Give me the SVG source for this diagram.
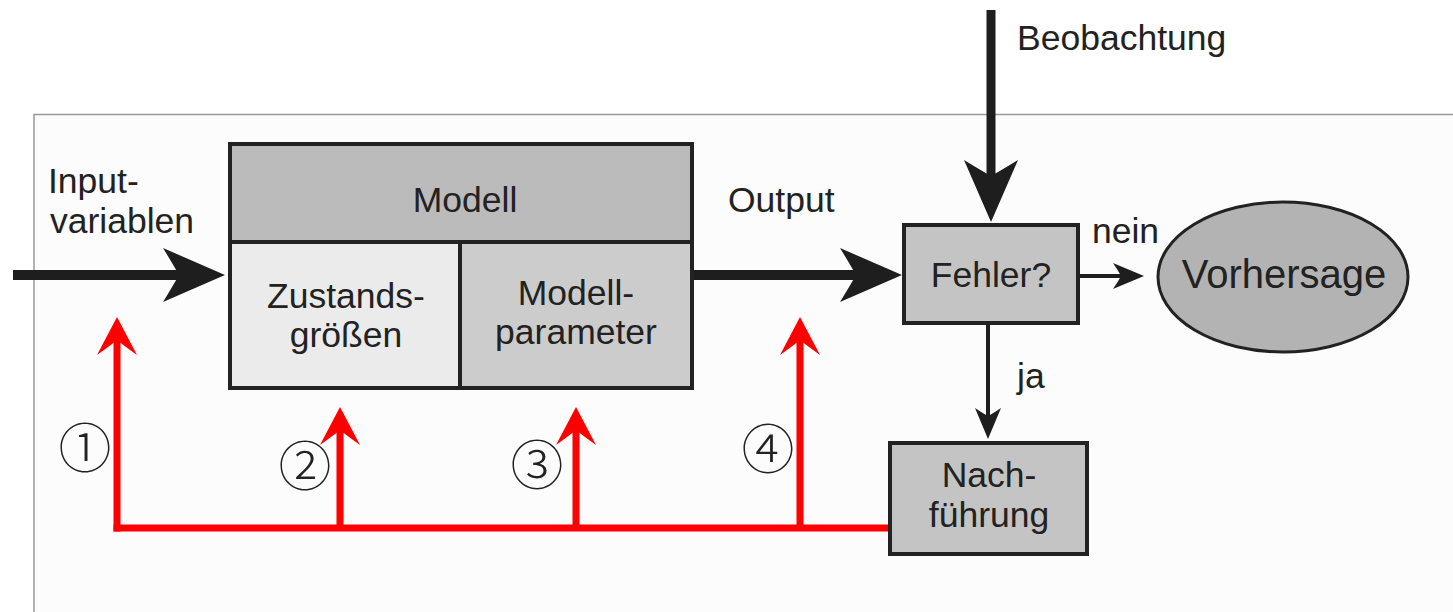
<svg xmlns="http://www.w3.org/2000/svg" width="1453" height="612" viewBox="0 0 1453 612">
<style>
  text { font-family: "Liberation Sans", Arial, sans-serif; fill: #222; }
  .lbl { font-size: 35.5px; }
  .box { stroke: #222; stroke-width: 4; }
  .blk { stroke: #1e1e1e; fill: none; }
  .red { stroke: #ff0000; stroke-width: 7; fill: none; }
  .num { font-family: "Noto Sans CJK JP", "DejaVu Sans", sans-serif; font-size: 53px; font-weight: 300; text-anchor: middle; dominant-baseline: central; }
</style>
<defs>
  <marker id="bigHead" markerUnits="userSpaceOnUse" viewBox="-2 -28 64 56" markerWidth="64" markerHeight="56" refX="14" refY="0" orient="auto">
    <path d="M60,0 L-2,-27 Q9,-9 14,0 Q9,9 -2,27 Z" fill="#1e1e1e"/>
  </marker>
  <marker id="redHead" markerUnits="userSpaceOnUse" viewBox="0 -21 40 42" markerWidth="40" markerHeight="42" refX="15" refY="0" orient="auto">
    <path d="M38,0 L0,-20 Q10,-6 15,0 Q10,6 0,20 Z" fill="#ff0000"/>
  </marker>
  <marker id="smallHead" markerUnits="userSpaceOnUse" viewBox="0 -14 32 28" markerWidth="32" markerHeight="28" refX="8" refY="0" orient="auto">
    <path d="M31,0 L0,-13 Q6,-4 8,0 Q6,4 0,13 Z" fill="#1e1e1e"/>
  </marker>
</defs>

<rect x="0" y="0" width="1453" height="612" fill="#ffffff"/>
<g id="frame">
  <rect x="34" y="114.5" width="1430" height="510" fill="#fcfcfc"/>
  <path d="M34,612 V114.5 H1453" fill="none" stroke="#999" stroke-width="1.5"/>
</g>

<g id="connectors">
  <line class="blk" x1="13" y1="275" x2="179" y2="275" stroke-width="10" marker-end="url(#bigHead)"/>
  <line class="blk" x1="692" y1="275" x2="856" y2="275" stroke-width="10" marker-end="url(#bigHead)"/>
  <line class="blk" x1="991" y1="10" x2="991" y2="176" stroke-width="9" marker-end="url(#bigHead)"/>
  <line class="blk" x1="1079" y1="276" x2="1121" y2="276" stroke-width="4" marker-end="url(#smallHead)"/>
  <line class="blk" x1="988" y1="324" x2="988" y2="416" stroke-width="4" marker-end="url(#smallHead)"/>
  <line class="red" x1="113.5" y1="528" x2="889" y2="528"/>
  <line class="red" x1="117" y1="531.5" x2="117" y2="340" marker-end="url(#redHead)"/>
  <line class="red" x1="340" y1="528" x2="340" y2="430" marker-end="url(#redHead)"/>
  <line class="red" x1="576" y1="528" x2="576" y2="430" marker-end="url(#redHead)"/>
  <line class="red" x1="800" y1="528" x2="800" y2="340" marker-end="url(#redHead)"/>
</g>

<g id="modell">
  <rect class="box" x="230" y="144" width="462" height="98" fill="#bbbbbb"/>
  <text class="lbl" x="465" y="212" text-anchor="middle">Modell</text>
</g>
<g id="zustand">
  <rect class="box" x="230" y="242" width="230" height="146" fill="#ebebeb"/>
  <text class="lbl" x="346" y="308" text-anchor="middle">Zustands-</text>
  <text class="lbl" x="346" y="347" text-anchor="middle">größen</text>
</g>
<g id="parameter">
  <rect class="box" x="460" y="242" width="232" height="146" fill="#cccccc"/>
  <text class="lbl" x="576" y="305" text-anchor="middle">Modell-</text>
  <text class="lbl" x="576" y="344" text-anchor="middle">parameter</text>
</g>
<g id="fehler">
  <rect class="box" x="904" y="225" width="174" height="98" fill="#c4c4c4" stroke-width="3.5"/>
  <text class="lbl" x="991" y="287" text-anchor="middle">Fehler?</text>
</g>
<g id="vorhersage">
  <ellipse cx="1283" cy="277" rx="125" ry="75" fill="#b3b3b3" stroke="#222" stroke-width="3"/>
  <text x="1284" y="288" font-size="40" text-anchor="middle">Vorhersage</text>
</g>
<g id="nachfuehrung">
  <rect class="box" x="890" y="443" width="197" height="111" fill="#c4c4c4"/>
  <text class="lbl" x="989" y="487" text-anchor="middle">Nach-</text>
  <text class="lbl" x="989" y="527" text-anchor="middle">führung</text>
</g>

<g id="labels">
  <text class="lbl" x="48" y="193">Input-</text>
  <text class="lbl" x="50" y="233">variablen</text>
  <text class="lbl" x="728" y="212">Output</text>
  <text class="lbl" x="1017" y="50">Beobachtung</text>
  <text class="lbl" x="1092" y="243">nein</text>
  <text class="lbl" x="1017" y="388">ja</text>
  <text class="num" x="85" y="445">①</text>
  <text class="num" x="305" y="463">②</text>
  <text class="num" x="537" y="462">③</text>
  <text class="num" x="768" y="446">④</text>
</g>
</svg>
